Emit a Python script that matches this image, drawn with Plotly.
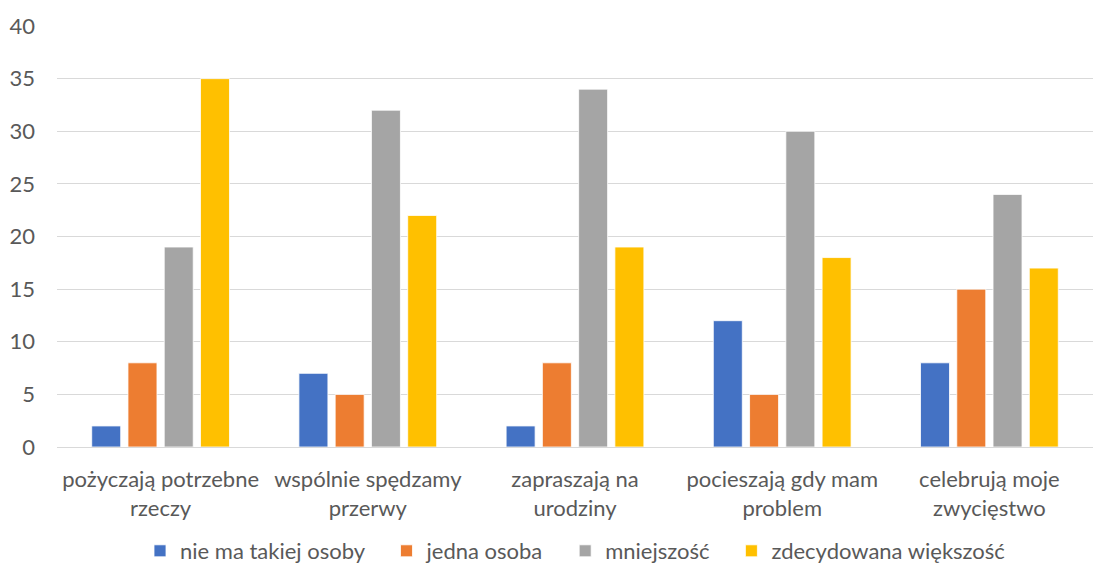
import plotly.graph_objects as go

categories = ["pożyczają potrzebne<br>rzeczy", "wspólnie spędzamy<br>przerwy", "zapraszają na<br>urodziny",
              "pocieszają gdy mam<br>problem", "celebrują moje<br>zwycięstwo"]
series_names = ["nie ma takiej osoby", "jedna osoba", "mniejszość", "zdecydowana większość"]
nie_ma = [2, 7, 2, 12, 8]
jedna = [8, 5, 8, 5, 15]
mniejszosc = [19, 32, 34, 30, 24]
wiekszosc = [35, 22, 19, 18, 17]
colors = ["#4472C4", "#ED7D31", "#A5A5A5", "#FFC000"]
y_ticks = [0, 5, 10, 15, 20, 25, 30, 35, 40]

pad = "\u00a0" * 3
fig = go.Figure()
series = [nie_ma, jedna, mniejszosc, wiekszosc]
for i, (name, vals, c) in enumerate(zip(series_names, series, colors)):
    label = name + (pad if i < len(series_names) - 1 else "")
    fig.add_trace(go.Bar(x=categories, y=vals, name=label,
                         marker=dict(color=c, line=dict(color="white", width=0.8))))

font = dict(family="Lato, Open Sans, sans-serif", size=22, color="#595959")
fig.update_layout(
    width=1098, height=564,
    margin=dict(l=49, r=13, t=18, b=125, autoexpand=False),
    plot_bgcolor="white", paper_bgcolor="white",
    barmode="group", bargap=0.3, bargroupgap=0.2,
    font=font,
    legend=dict(orientation="h", x=0.5, xanchor="center", y=5, yref="container",
                yanchor="middle", font=font, itemwidth=30, traceorder="normal"),
    xaxis=dict(showgrid=False, showline=True, linecolor="#D9D9D9", linewidth=1,
               ticks="", tickfont=font, automargin=False, ticklabelstandoff=13),
    yaxis=dict(range=[0, 40], tickvals=y_ticks, showgrid=True, gridcolor="#D9D9D9",
               gridwidth=1, zeroline=False, showline=False, ticks="", tickfont=font,
               ticklabelstandoff=21, automargin=False),
)
fig.write_html("out.html")
